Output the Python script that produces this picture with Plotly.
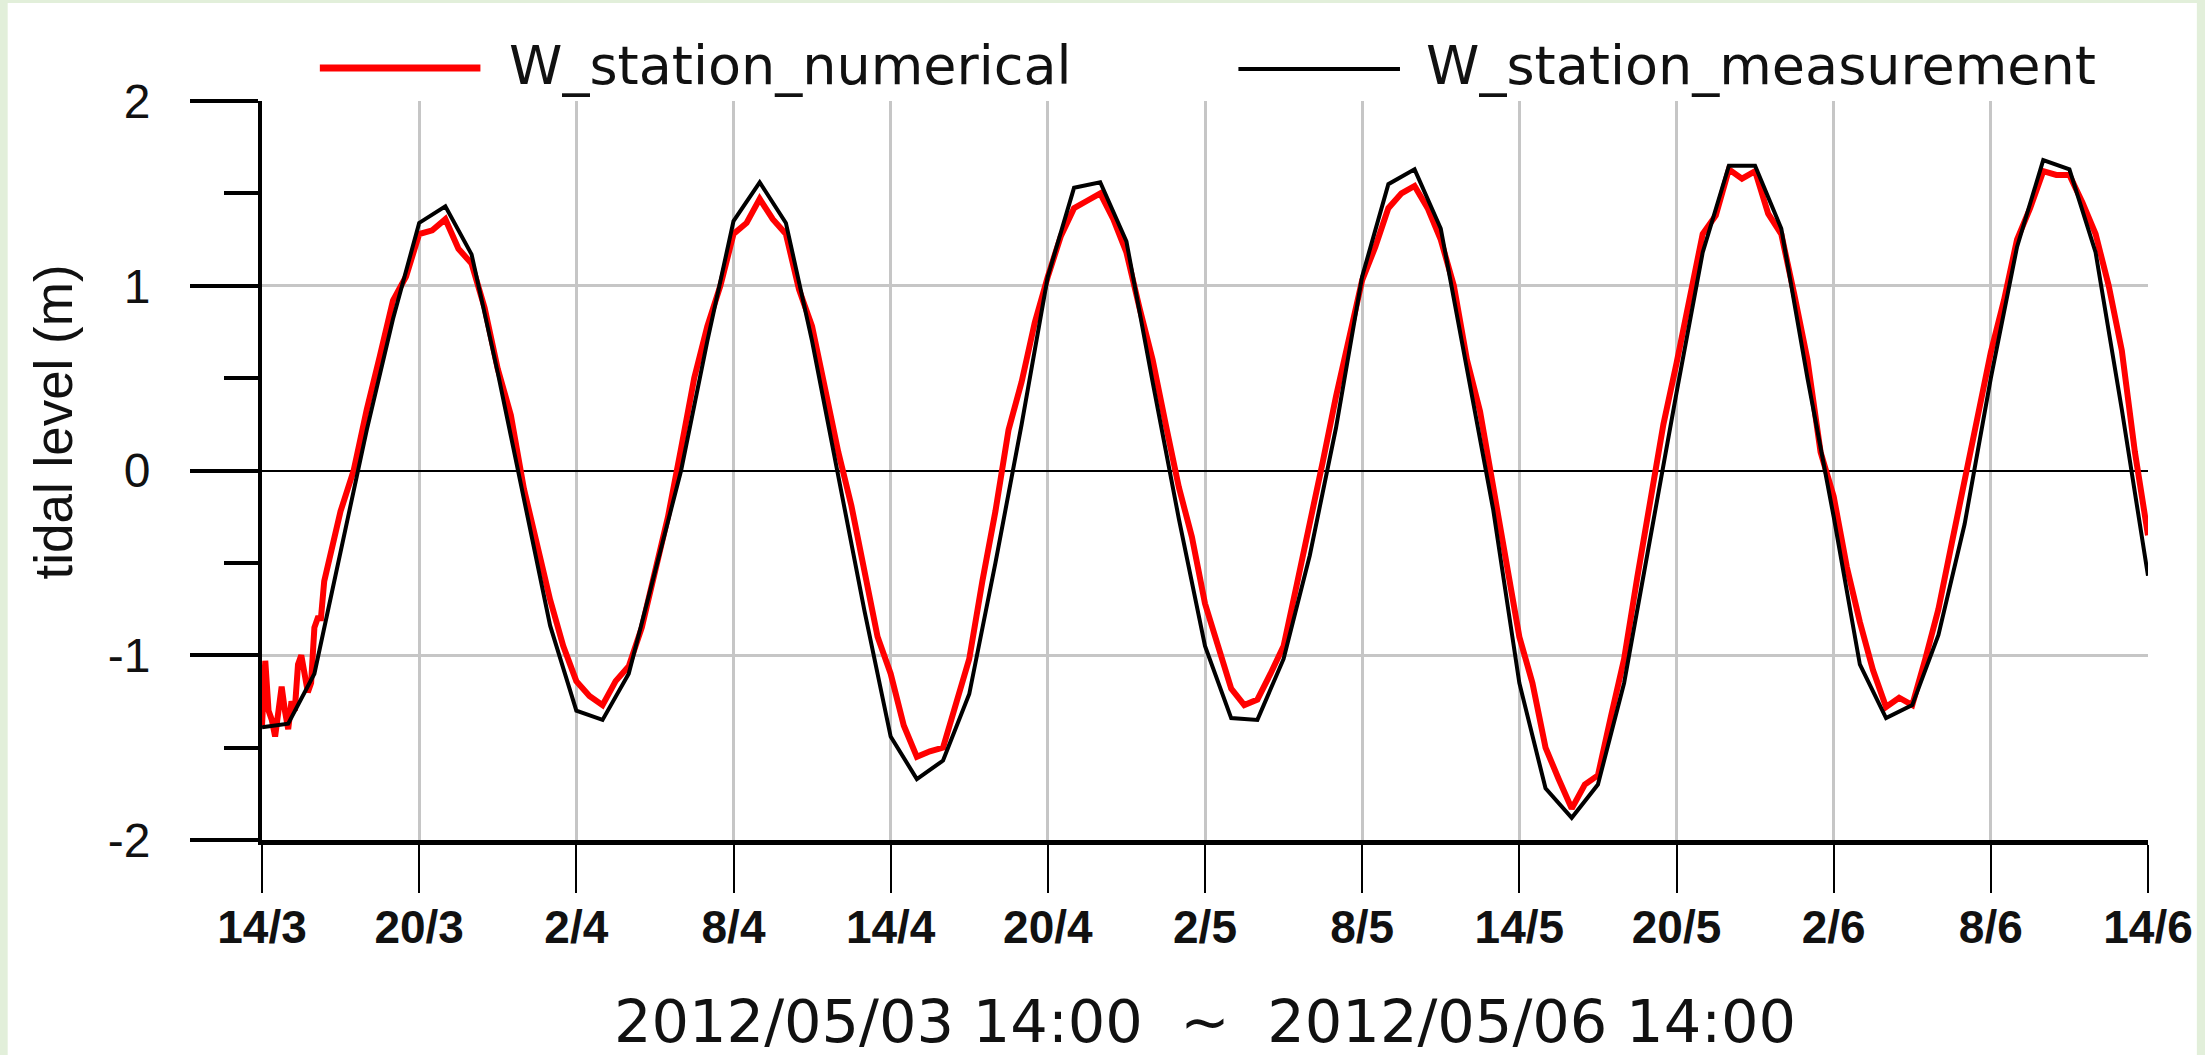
import numpy as np
import plotly.graph_objects as go

# ---------------- data ----------------
x_tick_hours = [0, 6, 12, 18, 24, 30, 36, 42, 48, 54, 60, 66, 72]
x_tick_labels = ["14/3", "20/3", "2/4", "8/4", "14/4", "20/4", "2/5",
                 "8/5", "14/5", "20/5", "2/6", "8/6", "14/6"]
y_tick_vals = [-2, -1, 0, 1, 2]
y_tick_labels = ["-2", "-1", "0", "1", "2"]

# measurement: hourly (hours since 2012/05/03 14:00)
meas_hours = list(range(73))
meas_level = [-1.39, -1.37, -1.10, -0.45, 0.22, 0.82, 1.34, 1.43, 1.17, 0.53,
              -0.16, -0.84, -1.30, -1.35, -1.10, -0.56, 0.00, 0.70, 1.35, 1.56,
              1.34, 0.70, -0.03, -0.76, -1.44, -1.67, -1.57, -1.21, -0.50, 0.25,
              1.05, 1.53, 1.56, 1.24, 0.48, -0.26, -0.95, -1.34, -1.35, -1.02,
              -0.46, 0.23, 1.05, 1.55, 1.63, 1.31, 0.55, -0.21, -1.15, -1.72,
              -1.88, -1.70, -1.15, -0.35, 0.42, 1.18, 1.65, 1.65, 1.31, 0.50,
              -0.25, -1.05, -1.34, -1.27, -0.89, -0.29, 0.50, 1.21, 1.68, 1.63,
              1.18, 0.33, -0.57]

# numerical model output
num_hours = [0.0, 0.125, 0.25, 0.375, 0.5, 0.625, 0.75, 0.875, 1.0, 1.125,
             1.25, 1.375, 1.5, 1.625, 1.75, 1.875, 2.0, 2.125, 2.25, 2.375, 2.5] + \
            list(np.arange(3.0, 72.01, 0.5))
num_level = [-1.38, -1.03, -1.30, -1.35, -1.44, -1.30, -1.17, -1.30, -1.40, -1.25,
             -1.30, -1.05, -1.00, -1.10, -1.20, -1.15, -0.85, -0.80, -0.80, -0.60, -0.52,
             -0.22, 0.00, 0.33, 0.62, 0.92, 1.05, 1.28, 1.30, 1.36, 1.20,
             1.12, 0.88, 0.55, 0.30, -0.10, -0.40, -0.70, -0.95, -1.14, -1.22,
             -1.27, -1.14, -1.06, -0.85, -0.55, -0.25, 0.12, 0.50, 0.78, 1.00,
             1.28, 1.34, 1.47, 1.36, 1.28, 0.98, 0.78, 0.45, 0.10, -0.19,
             -0.56, -0.90, -1.10, -1.38, -1.55, -1.52, -1.50, -1.25, -1.02, -0.60,
             -0.22, 0.22, 0.48, 0.80, 1.05, 1.27, 1.42, 1.46, 1.50, 1.36,
             1.18, 0.88, 0.60, 0.25, -0.09, -0.36, -0.72, -0.95, -1.18, -1.27,
             -1.24, -1.10, -0.95, -0.62, -0.30, 0.05, 0.40, 0.70, 1.03, 1.21,
             1.42, 1.50, 1.54, 1.42, 1.25, 1.00, 0.60, 0.32, -0.10, -0.50,
             -0.90, -1.15, -1.50, -1.67, -1.83, -1.70, -1.65, -1.33, -1.02, -0.58,
             -0.18, 0.25, 0.58, 0.92, 1.28, 1.38, 1.63, 1.58, 1.62, 1.39,
             1.28, 0.95, 0.60, 0.10, -0.14, -0.52, -0.82, -1.08, -1.28, -1.23,
             -1.27, -1.02, -0.75, -0.40, -0.05, 0.30, 0.64, 0.92, 1.25, 1.42,
             1.62, 1.60, 1.60, 1.45, 1.28, 1.00, 0.65, 0.10, -0.35]

series_names = ["W_station_numerical", "W_station_measurement"]
x_title = "2012/05/03 14:00  ~  2012/05/06 14:00"
y_title = "tidal level (m)"

# ---------------- figure ----------------
W, H = 2205, 1055
ML, MR, MT, MB = 262, 52, 101, 215
PW, PH = W - ML - MR, H - MT - MB


def px(xpix):
    return (xpix - ML) / PW


def py(ypix):
    return (H - MB - ypix) / PH


FONT = "Liberation Sans, Arial, sans-serif"
WIDE = "DejaVu Sans, Liberation Sans, sans-serif"

fig = go.Figure()
fig.add_trace(go.Scatter(x=num_hours, y=num_level, mode="lines",
                         line=dict(color="#ff0000", width=6),
                         name=series_names[0], showlegend=False))
fig.add_trace(go.Scatter(x=meas_hours, y=meas_level, mode="lines",
                         line=dict(color="#000000", width=4),
                         name=series_names[1], showlegend=False))

fig.update_layout(
    width=W, height=H,
    margin=dict(l=ML, r=MR, t=MT, b=MB, pad=0),
    paper_bgcolor="#e2efda",
    plot_bgcolor="#ffffff",
    font=dict(family=FONT, color="#000000"),
    showlegend=False,
)

fig.update_xaxes(
    range=[0, 72],
    tickmode="array", tickvals=x_tick_hours, ticktext=x_tick_labels,
    ticks="outside", ticklen=48, tickwidth=2, tickcolor="#000000",
    tickfont=dict(family=FONT, size=46, color="#111111", weight="bold"),
    ticklabelstandoff=-5,
    showline=True, linewidth=5, linecolor="#000000",
    showgrid=True, gridcolor="#c6c6c6", gridwidth=3,
    zeroline=False,
)
fig.update_yaxes(
    range=[-2, 2],
    tickmode="array", tickvals=y_tick_vals, ticktext=y_tick_labels,
    ticks="outside", ticklen=68, tickwidth=4, tickcolor="#000000",
    tickfont=dict(family=FONT, size=48, color="#111111"),
    ticklabelstandoff=30,
    minor=dict(ticks="outside", ticklen=34, tickwidth=4, tickcolor="#000000",
               dtick=0.5, tick0=0, showgrid=False),
    showline=True, linewidth=4, linecolor="#000000",
    showgrid=True, gridcolor="#c6c6c6", gridwidth=3,
    zeroline=True, zerolinecolor="#000000", zerolinewidth=2,
)

shapes = [
    # white page inside the thin green frame
    dict(type="rect", xref="paper", yref="paper", layer="below",
         x0=px(7), x1=px(2202), y0=py(1055), y1=py(3),
         fillcolor="#ffffff", line=dict(width=0)),
    # legend samples
    dict(type="line", xref="paper", yref="paper",
         x0=px(320), x1=px(481), y0=py(68), y1=py(68),
         line=dict(color="#ff0000", width=7)),
    dict(type="line", xref="paper", yref="paper",
         x0=px(1241), x1=px(1403), y0=py(69), y1=py(69),
         line=dict(color="#000000", width=4)),
]
fig.update_layout(shapes=shapes)

annotations = [
    dict(text=series_names[0], xref="paper", yref="paper",
         x=px(508), y=py(66), xanchor="left", yanchor="middle",
         showarrow=False, font=dict(family=WIDE, size=54, color="#111111")),
    dict(text=series_names[1], xref="paper", yref="paper",
         x=px(1427), y=py(66), xanchor="left", yanchor="middle",
         showarrow=False, font=dict(family=WIDE, size=54, color="#111111")),
    dict(text=y_title, xref="paper", yref="paper",
         x=px(52), y=py(422), xanchor="center", yanchor="middle",
         textangle=-90, showarrow=False,
         font=dict(family=FONT, size=53, color="#111111")),
    dict(text=x_title, xref="paper", yref="paper",
         x=0.5, y=py(1021), xanchor="center", yanchor="middle",
         showarrow=False, font=dict(family=WIDE, size=59, color="#111111")),
]
fig.update_layout(annotations=annotations)

fig.write_html("out.html",
               config={"displayModeBar": False},
               post_script="document.body.style.margin='0';"
                           "document.body.style.overflow='hidden';")
